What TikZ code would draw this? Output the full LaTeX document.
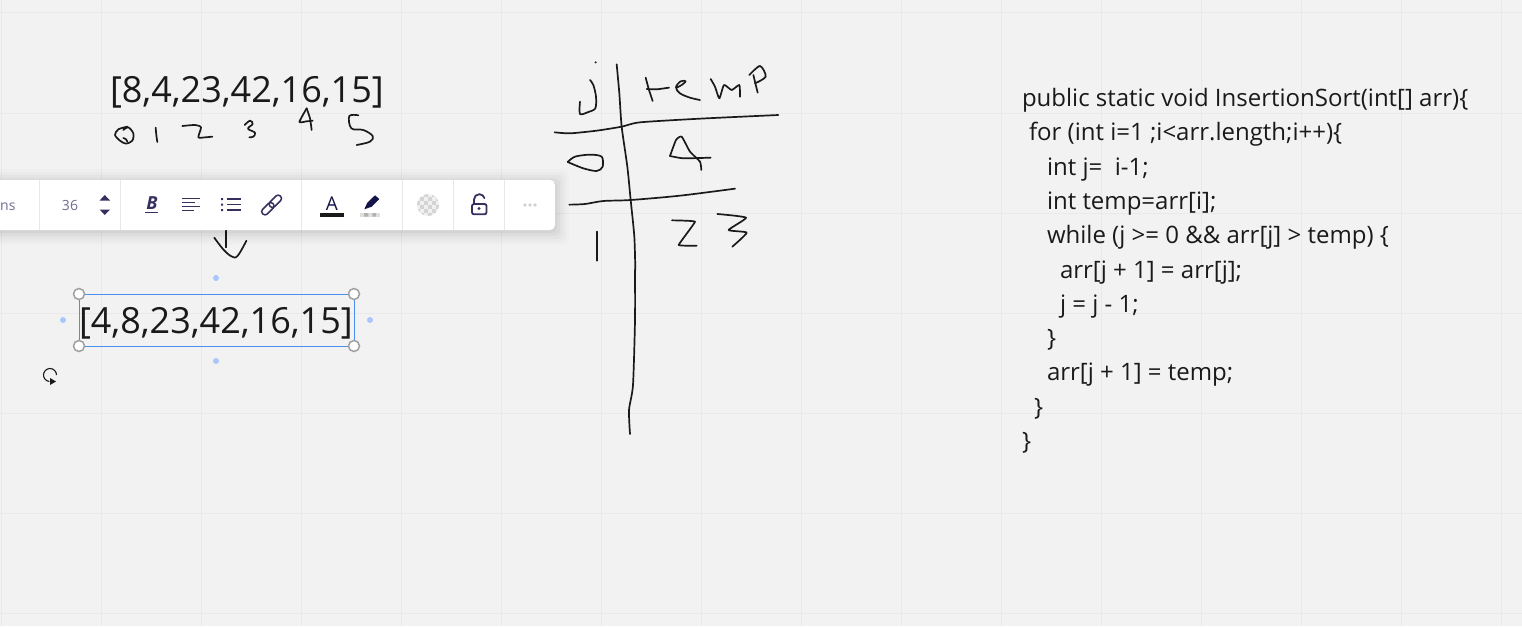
\documentclass[tikz,border=0pt]{standalone}
\usepackage{fontspec}
\setmainfont{Open Sans}
\usetikzlibrary{calc}
\definecolor{bgc}{HTML}{F2F2F2}
\definecolor{gridc}{HTML}{E9E9E9}
\definecolor{ink}{HTML}{1A1A1A}
\definecolor{tool}{HTML}{34305F}
\definecolor{navy}{HTML}{14144A}
\definecolor{sepc}{HTML}{E8E8EC}
\definecolor{selc}{HTML}{4C8DF0}
\definecolor{dotc}{HTML}{A9C7FA}
\definecolor{handlec}{HTML}{A0A0A0}
\tikzset{
  pen/.style={draw=ink,line width=1.7pt,line cap=round,line join=round},
  zooma/.style={xshift=90pt,yshift=-50pt,x=0.33333pt,y=-0.33333pt},
  zoomb/.style={xshift=540pt,yshift=-50pt,x=0.33333pt,y=-0.33333pt},
  zoomc/.style={yshift=-170pt,x=0.35714pt,y=-0.33333pt},
  bigtext/.style={anchor=base west,inner sep=0pt,outer sep=0pt,text=ink,font=\fontsize{36}{36}\selectfont},
  codeline/.style={anchor=base west,inner sep=0pt,outer sep=0pt,text=ink,font=\fontsize{24}{24}\selectfont},
  handle/.style={circle,draw=handlec,fill=white,line width=1.5pt,minimum size=11pt,inner sep=0pt},
  sidedot/.style={circle,fill=dotc,minimum size=6pt,inner sep=0pt},
  toolsep/.style={draw=sepc,line width=1pt},
  toolline/.style={draw=tool,line width=1.5pt},
}
\begin{document}
\begin{tikzpicture}[x=1pt,y=-1pt]
\useasboundingbox (0,0) rectangle (1522,626);
\fill[bgc] (0,0) rectangle (1522,626);
% grid
\foreach \gx in {1,101,201,301,401,501,601,701,801,901,1001,1101,1201,1301,1401,1501}
  \draw[gridc,line width=1pt] (\gx,0) -- (\gx,626);
\foreach \gy in {13,113,213,313,413,513,613}
  \draw[gridc,line width=1pt] (0,\gy) -- (1522,\gy);

% top array
\node[bigtext] (arrA) at (110,102) {[8,4,23,42,16,15]};
% hand-written indices
\begin{scope}[zooma]
\draw[pen] plot[smooth] coordinates {(112,230) (85,238) (75,255) (90,272) (108,281) (127,272) (130,250) (115,232) (100,240)};
\draw[pen] plot[smooth] coordinates {(100,264) (108,268) (112,275)};
\draw[pen] plot[smooth] coordinates {(197,233) (199,255) (202,276)};
\draw[pen] plot[smooth,tension=.4] coordinates {(277,228) (315,225) (333,232) (325,262) (345,262) (367,260)};
\draw[pen] plot[smooth,tension=.6] coordinates {(464,225) (480,212) (488,222) (474,236) (495,248) (490,260) (478,262)};
\draw[pen] plot[smooth,tension=.3] coordinates {(650,175) (628,216) (650,214) (668,212)};
\draw[pen] plot[smooth,tension=.3] coordinates {(650,175) (660,205) (665,240)};
\draw[pen] plot[smooth,tension=.6] coordinates {(805,196) (778,198) (784,235) (820,240) (848,258) (840,275) (800,285)};
\end{scope}

% arrow sketch below toolbar
\begin{scope}[zoomc]
\draw[pen] (633,180) -- (633,232);
\draw[pen] plot[smooth,tension=.6] coordinates {(600,203) (625,238) (648,259) (665,258) (690,212)};
\end{scope}

% table sketch
\begin{scope}[zoomb]
\fill[ink] (167,37) circle (1.1pt);
\draw[pen] plot[smooth] coordinates {(150,90) (160,105) (168,140) (166,175) (145,186) (120,192) (120,155)};
\draw[pen] plot[smooth,tension=.4] coordinates {(230,43) (238,130) (245,230) (262,350) (272,450) (283,560) (286,660)};
\draw[pen] plot[smooth,tension=.4] coordinates {(44,247) (90,250) (170,242) (245,230) (300,217) (480,206) (715,195)};
\draw[pen] plot[smooth,tension=.3] coordinates {(317,83) (327,120) (338,153)};
\draw[pen] plot[smooth,tension=.3] coordinates {(320,117) (350,118) (387,113)};
\draw[pen] plot[smooth,tension=.6] coordinates {(412,112) (425,105) (437,94) (422,94) (408,112) (420,130) (450,143) (480,150)};
\draw[pen] plot[smooth,tension=.35] coordinates {(512,87) (525,110) (538,145) (552,105) (575,120) (598,105) (600,140)};
\draw[pen] (640,75) -- (653,128);
\draw[pen] plot[smooth,tension=.5] coordinates {(628,75) (660,48) (677,80) (645,100)};
\draw[pen] plot[smooth,tension=.5] coordinates {(83,336) (105,320) (150,314) (185,320) (188,350) (170,363) (130,355) (83,336)};
\draw[pen] plot[smooth,tension=.3] coordinates {(390,318) (408,270) (425,260) (450,305) (480,335) (484,360)};
\draw[pen] plot[smooth,tension=.3] coordinates {(390,318) (430,325) (512,323)};
\draw[pen] plot[smooth,tension=.5] coordinates {(88,464) (135,462) (190,453) (272,450) (420,437) (585,416)};
\draw[pen] (171,545) -- (171,632);
\draw[pen] plot[smooth,tension=.15] coordinates {(396,511) (465,515) (416,585) (470,587)};
\draw[pen] plot[smooth,tension=.3] coordinates {(532,492) (618,503) (566,540) (620,548) (577,590)};
\end{scope}
% long stem of the table divider
\draw[pen] plot[smooth,tension=.4] coordinates {(635,270) (635,320) (633,385) (629,410) (630,434)};

% selected array
\draw[selc,line width=1pt] (79,294) rectangle (354,346);
\node[bigtext] (arrB) at (79,333) {[4,8,23,42,16,15]};
\node[handle] (h1) at (79,294) {};
\node[handle] (h2) at (354,294) {};
\node[handle] (h3) at (79,346) {};
\node[handle] (h4) at (354,346) {};
\node[sidedot] (d1) at (216,278) {};
\node[sidedot] (d2) at (216,361) {};
\node[sidedot] (d3) at (63,320) {};
\node[sidedot] (d4) at (370,320) {};
% rotate handle
\draw[ink,line width=1.1pt] (56.5,375) arc[start angle=0,end angle=265,radius=6.5pt];
\fill[ink] (50,378) -- (56,381.5) -- (50,385) -- cycle;

% toolbar
\foreach \k/\o in {14/.012,11/.018,8/.025,5/.03,2/.04}
  \fill[black,opacity=\o,rounded corners=6pt] (-20,{180-\k+3}) rectangle ({555+\k},{230+\k+1});
\fill[white,rounded corners=5pt] (-20,180) rectangle (555,230);
\foreach \sx in {39.5,120.5,301.5,402.5,453.5,504.5}
  \draw[toolsep] (\sx,180) -- (\sx,230);
\node[anchor=base west,inner sep=0pt,text=tool!70!white,font=\fontsize{14}{14}\selectfont] (tfont) at (0,210.5) {ns};
\node[anchor=base,inner sep=0pt,text=tool!70!white,font=\fontsize{14}{14}\selectfont] (tsize) at (70,210.5) {36};
\fill[tool] (104.8,195) -- (110,200.5) -- (99.6,200.5) -- cycle;
\fill[tool] (104.8,215) -- (110,209.5) -- (99.6,209.5) -- cycle;
\node[anchor=base,inner sep=0pt,text=tool,font=\fontsize{18}{18}\bfseries\itshape\selectfont] (tbold) at (152,209.5) {B};
\draw[tool,line width=1.6pt] (145,212.5) -- (158,212.5);
% align icon
\draw[toolline] (182,198.5) -- (200,198.5) (182,202.5) -- (195,202.5) (182,206.7) -- (200,206.7) (182,210.7) -- (193.5,210.7);
% list icon
\draw[toolline] (227.3,199) -- (240.7,199) (227.3,204.5) -- (240.7,204.5) (227.3,210) -- (240.7,210);
\fill[tool] (221,198) rectangle (223,200) (221,203.5) rectangle (223,205.5) (221,209) rectangle (223,211);
% link icon
\begin{scope}[shift={(271.6,205)},rotate=45]
\draw[tool,line width=1.5pt,rounded corners=3pt] (-2,-3.3) rectangle (12.5,3.3);
\draw[tool,line width=1.5pt,rounded corners=3pt] (-12.5,-3.3) rectangle (2,3.3);
\end{scope}
% text colour
\node[anchor=base,inner sep=0pt,text=navy,font=\fontsize{19}{19}\selectfont] (tcolor) at (332,210) {A};
\fill[ink] (320,213) rectangle (344,216.7);
% highlighter
\fill[navy] (364.3,209.3) -- (367.3,202.7) -- (375,195.3) -- (379.3,199) -- (371.7,206.7) -- cycle;
\fill[gray!25] (360,213) rectangle (380,216.7);
\fill[gray!60] (364,213) rectangle (368.3,216.7) (372.3,213) rectangle (376,216.7);
% transparency swatch
\begin{scope}
\clip (428,205) circle (11pt);
\fill[black!6] (416,193) rectangle (440,217);
\foreach \i in {0,...,5}\foreach \j in {0,...,5}{
  \pgfmathparse{int(mod(\i+\j,2))}
  \ifnum\pgfmathresult=0 \fill[black!17] ({416+4*\i},{193+4*\j}) rectangle +(4,4);\fi
}
\end{scope}
% lock
\draw[tool,line width=1.8pt,rounded corners=2pt] (472,204) rectangle (486.5,214.3);
\draw[tool,line width=1.8pt,line cap=round] (474,204) -- (474,199.5) arc[start angle=180,end angle=15,radius=5.3pt];
\fill[tool] (479,208.5) circle (1.6pt);
% more
\foreach \mx in {525,530,535}
  \fill[black!18] (\mx,205) circle (1.9pt);

% code
\node[codeline] (c1) at (1022,106) {public static void InsertionSort(int[] arr)\{};
\node[codeline] (c2) at (1029,140) {for (int i=1 ;i<arr.length;i++)\{};
\node[codeline] (c3) at (1047,175) {int j=\ \ i-1;};
\node[codeline] (c4) at (1047,209) {int temp=arr[i];};
\node[codeline] (c5) at (1047,243) {while (j >= 0 \&\& arr[j] > temp) \{};
\node[codeline] (c6) at (1060,278) {arr[j + 1] = arr[j];};
\node[codeline] (c7) at (1060,312) {j = j - 1;};
\node[codeline] (c8) at (1047,346) {\}};
\node[codeline] (c9) at (1047,380) {arr[j + 1] = temp;};
\node[codeline] (c10) at (1034,415) {\}};
\node[codeline] (c11) at (1022,449) {\}};
\end{tikzpicture}
\end{document}
